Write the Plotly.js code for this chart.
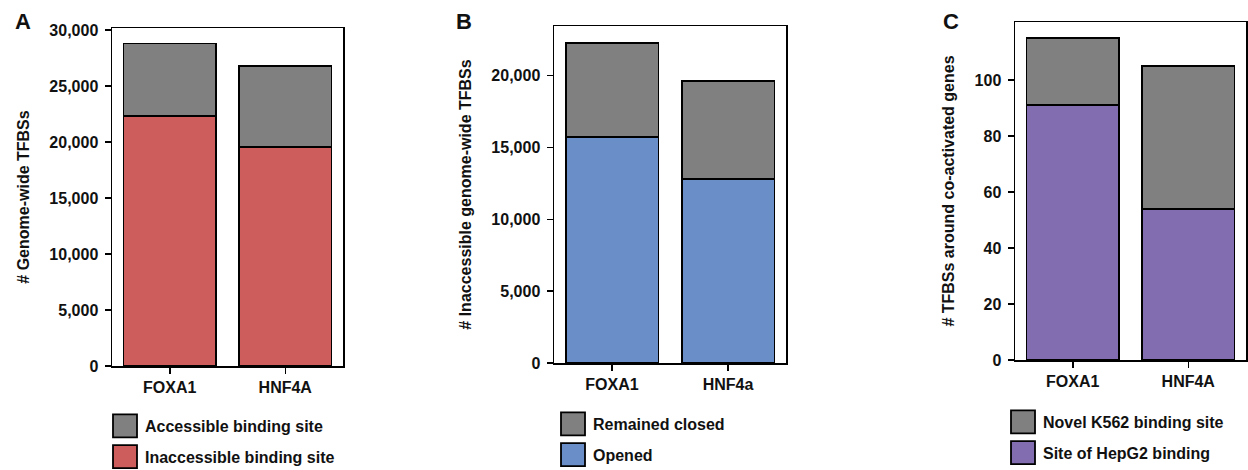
<!DOCTYPE html>
<html>
<head>
<meta charset="utf-8">
<script src="https://cdn.plot.ly/plotly-3.0.1.min.js"></script>
<style>
  html, body { margin: 0; padding: 0; background: #ffffff; }
  #chart { width: 1248px; height: 470px; }
</style>
</head>
<body>
<div id="chart"></div>
<script>
// ---- Data ----
const categoriesA = ['FOXA1', 'HNF4A'];
const inaccessibleA = [22300, 19550];
const accessibleA = [6500, 7270];

const categoriesB = ['FOXA1', 'HNF4a'];
const openedB = [15700, 12780];
const remainedClosedB = [6590, 6820];

const categoriesC = ['FOXA1', 'HNF4A'];
const hepg2SiteC = [91, 54];
const novelK562C = [24, 51];

const namesA = ['Inaccessible binding site', 'Accessible binding site'];
const namesB = ['Opened', 'Remained closed'];
const namesC = ['Site of HepG2 binding', 'Novel K562 binding site'];

const yTitles = ['# Genome-wide TFBSs', '# Inaccessible genome-wide TFBSs', '# TFBSs around co-activated genes'];
const panelLetters = ['A', 'B', 'C'];

// ---- Style ----
const W = 1248, H = 470;
const FONT = 'Liberation Sans, Arial, Helvetica, sans-serif';
const GRAY = '#808080';
const RED = '#CD5C5C';
const BLUE = '#6A8FC8';
const PURPLE = '#826DB0';
const EDGE = { color: '#000000', width: 1.8 };

function px(x) { return x / W; }
function py(y) { return 1 - y / H; }

function bar(x, y, name, color, xa, ya, legend, group, rank) {
  return {
    type: 'bar', x: x, y: y, name: name,
    marker: { color: color, line: EDGE },
    xaxis: xa, yaxis: ya, legend: legend, legendgroup: group, legendrank: rank,
    hoverinfo: 'x+y+name'
  };
}

const data = [
  bar(categoriesA, inaccessibleA, namesA[0], RED, 'x', 'y', 'legend', 'a1', 2),
  bar(categoriesA, accessibleA, namesA[1], GRAY, 'x', 'y', 'legend', 'a2', 1),
  bar(categoriesB, openedB, namesB[0], BLUE, 'x2', 'y2', 'legend2', 'b1', 2),
  bar(categoriesB, remainedClosedB, namesB[1], GRAY, 'x2', 'y2', 'legend2', 'b2', 1),
  bar(categoriesC, hepg2SiteC, namesC[0], PURPLE, 'x3', 'y3', 'legend3', 'c1', 2),
  bar(categoriesC, novelK562C, namesC[1], GRAY, 'x3', 'y3', 'legend3', 'c2', 1)
];

const tickFont = { family: FONT, size: 16, color: '#111111', weight: 700 };

function xaxis(domain, anchor) {
  return {
    domain: domain, anchor: anchor, type: 'category',
    showline: true, mirror: true, linecolor: '#000000', linewidth: 1.5,
    ticks: 'outside', ticklen: 6, tickwidth: 1.5, tickcolor: '#000000',
    tickfont: tickFont, showgrid: false, zeroline: false, fixedrange: true,
    automargin: false
  };
}
function yaxis(domain, anchor, range, tickvals, fmt, title) {
  return {
    domain: domain, anchor: anchor, range: range,
    tickmode: 'array', tickvals: tickvals, tickformat: fmt,
    showline: true, mirror: true, linecolor: '#000000', linewidth: 1.5,
    ticks: 'outside', ticklen: 6, tickwidth: 1.5, tickcolor: '#000000',
    tickfont: tickFont, showgrid: false, zeroline: false, fixedrange: true,
    ticklabelstandoff: 3, automargin: false,
    title: { text: title, font: { family: FONT, size: 16, color: '#111111', weight: 700 }, standoff: 16 }
  };
}

function legendAt(x, yTop) {
  return {
    x: px(x), xanchor: 'left', y: py(yTop), yanchor: 'top',
    orientation: 'v', traceorder: 'grouped', tracegroupgap: 7,
    bgcolor: 'rgba(0,0,0,0)', borderwidth: 0,
    font: { family: FONT, size: 16, color: '#111111', weight: 700 },
    itemclick: false, itemdoubleclick: false
  };
}

function letter(t, x, y) {
  return { text: t, x: px(x), y: py(y), xref: 'paper', yref: 'paper', xanchor: 'center', yanchor: 'middle',
    showarrow: false, font: { family: FONT, size: 22, color: '#111111', weight: 700 } };
}

const layout = {
  width: W, height: H,
  margin: { l: 0, r: 0, t: 0, b: 0, autoexpand: false },
  paper_bgcolor: '#ffffff', plot_bgcolor: '#ffffff',
  barmode: 'stack', bargap: 0.2,
  showlegend: true,
  font: { family: FONT, size: 16, color: '#111111' },
  xaxis: xaxis([px(112), px(343)], 'y'),
  yaxis: yaxis([py(366), py(28)], 'x', [0, 30180], [0, 5000, 10000, 15000, 20000, 25000, 30000], ',d', yTitles[0]),
  xaxis2: xaxis([px(554), px(786)], 'y2'),
  yaxis2: yaxis([py(363), py(26)], 'x2', [0, 23450], [0, 5000, 10000, 15000, 20000], ',d', yTitles[1]),
  xaxis3: xaxis([px(1015), px(1246)], 'y3'),
  yaxis3: yaxis([py(360), py(22)], 'x3', [0, 120.8], [0, 20, 40, 60, 80, 100], 'd', yTitles[2]),
  legend: legendAt(105, 409),
  legend2: legendAt(553, 407),
  legend3: legendAt(1003, 405),
  annotations: [
    letter(panelLetters[0], 23, 22),
    letter(panelLetters[1], 464, 21),
    letter(panelLetters[2], 951, 21)
  ]
};

Plotly.newPlot('chart', data, layout, { displayModeBar: false, staticPlot: true }).then(function (gd) {
  // enlarge the legend swatches to match the reference's large boxes
  gd.querySelectorAll('.legendpoints path').forEach(function (p) {
    p.setAttribute('d', 'M12,11.5H-12V-11.5H12Z');
  });
});
</script>
</body>
</html>
